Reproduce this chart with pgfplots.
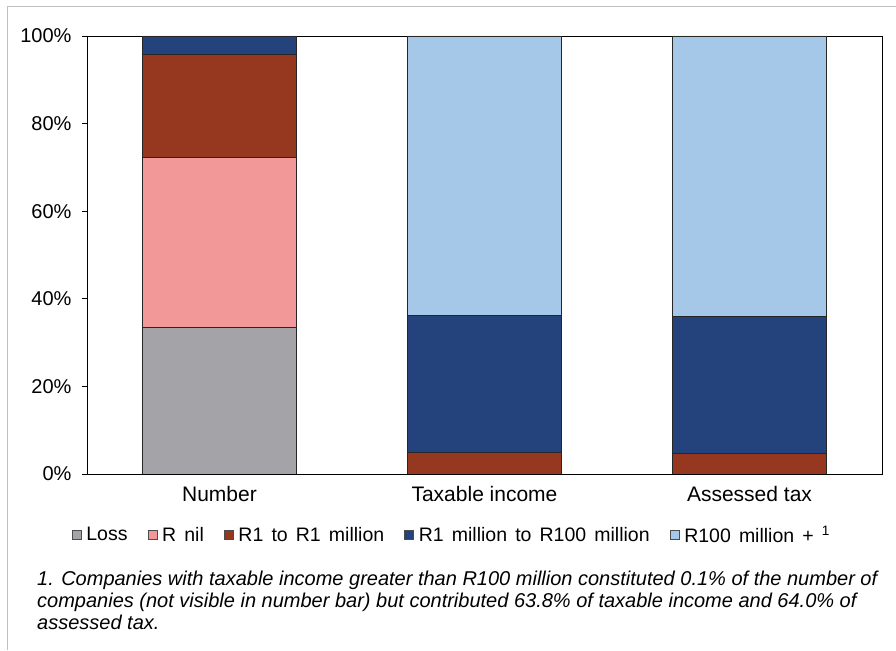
\documentclass[border=0pt]{standalone}
\usepackage{pgfplots}
\pgfplotsset{compat=1.18}
\usepackage{fontspec}
\setmainfont{Liberation Sans}
\newfontfamily\legfont{Liberation Sans}[WordSpace=1.5]
\definecolor{cLoss}{RGB}{163,163,168}
\definecolor{cNil}{RGB}{242,152,152}
\definecolor{cR1}{RGB}{150,56,32}
\definecolor{cMid}{RGB}{36,66,124}
\definecolor{cTop}{RGB}{165,200,232}
\begin{document}
\begin{tikzpicture}[x=1pt,y=1pt]
\path[use as bounding box] (0,0) rectangle (896,650);
\draw[black!25,line width=1pt] (7,0) -- (7,643) -- (896,643);
\begin{axis}[
  at={(87pt,176pt)}, anchor=south west,
  scale only axis, width=795pt, height=438pt,
  ybar stacked, bar width=154pt,
  xmin=-0.5, xmax=2.5, ymin=0, ymax=100,
  tick pos=left,
  xtick={0,1,2}, xticklabels={Number,Taxable income,Assessed tax},
  major x tick style={draw=none},
  extra x ticks={-0.5,0.5,1.5,2.5}, extra x tick labels={},
  extra x tick style={major tick length=6pt, tick style={draw=black, line width=0.8pt}},
  ytick={0,20,40,60,80,100},
  yticklabels={0\%,20\%,40\%,60\%,80\%,100\%},
  tick align=outside, major tick length=5pt,
  tick style={black, line width=0.8pt},
  axis line style={black, line width=0.9pt},
  yticklabel style={font=\fontsize{20}{22}\selectfont, xshift=-7pt},
  xticklabel style={font=\fontsize{21}{23}\selectfont, yshift=-4pt},
  legend columns=5,
  legend style={at={(0.459,-0.139)}, anchor=center, draw=none, fill=none,
    font=\legfont\fontsize{19.5}{22}\selectfont, column sep=3pt,
    /tikz/every even column/.append style={column sep=18pt}},
  legend image code/.code={\draw[#1, draw=black!70, line width=0.6pt] (0pt,-4.5pt) rectangle (9pt,4.5pt);},
  every axis plot/.append style={draw=black!85, line width=0.7pt},
]
\addplot[fill=cLoss] coordinates {(0,33.5) (1,0) (2,0)};
\addlegendentry{Loss}
\addplot[fill=cNil] coordinates {(0,38.9) (1,0) (2,0)};
\addlegendentry{R nil}
\addplot[fill=cR1] coordinates {(0,23.5) (1,5.0) (2,4.6)};
\addlegendentry{R1 to R1 million}
\addplot[fill=cMid] coordinates {(0,4.0) (1,31.2) (2,31.4)};
\addlegendentry{R1 million to R100 million}
\addplot[fill=cTop] coordinates {(0,0.1) (1,63.8) (2,64.0)};
\addlegendentry{R100 million + \textsuperscript{1}}
\end{axis}
\node[anchor=north west, align=left, inner sep=0pt,
  font=\fontsize{20}{22}\selectfont\itshape] at (37,79)
{1. Companies with taxable income greater than R100 million constituted 0.1\% of the number of\\
companies (not visible in number bar) but contributed 63.8\% of taxable income and 64.0\% of\\
assessed tax.};
\end{tikzpicture}
\end{document}
